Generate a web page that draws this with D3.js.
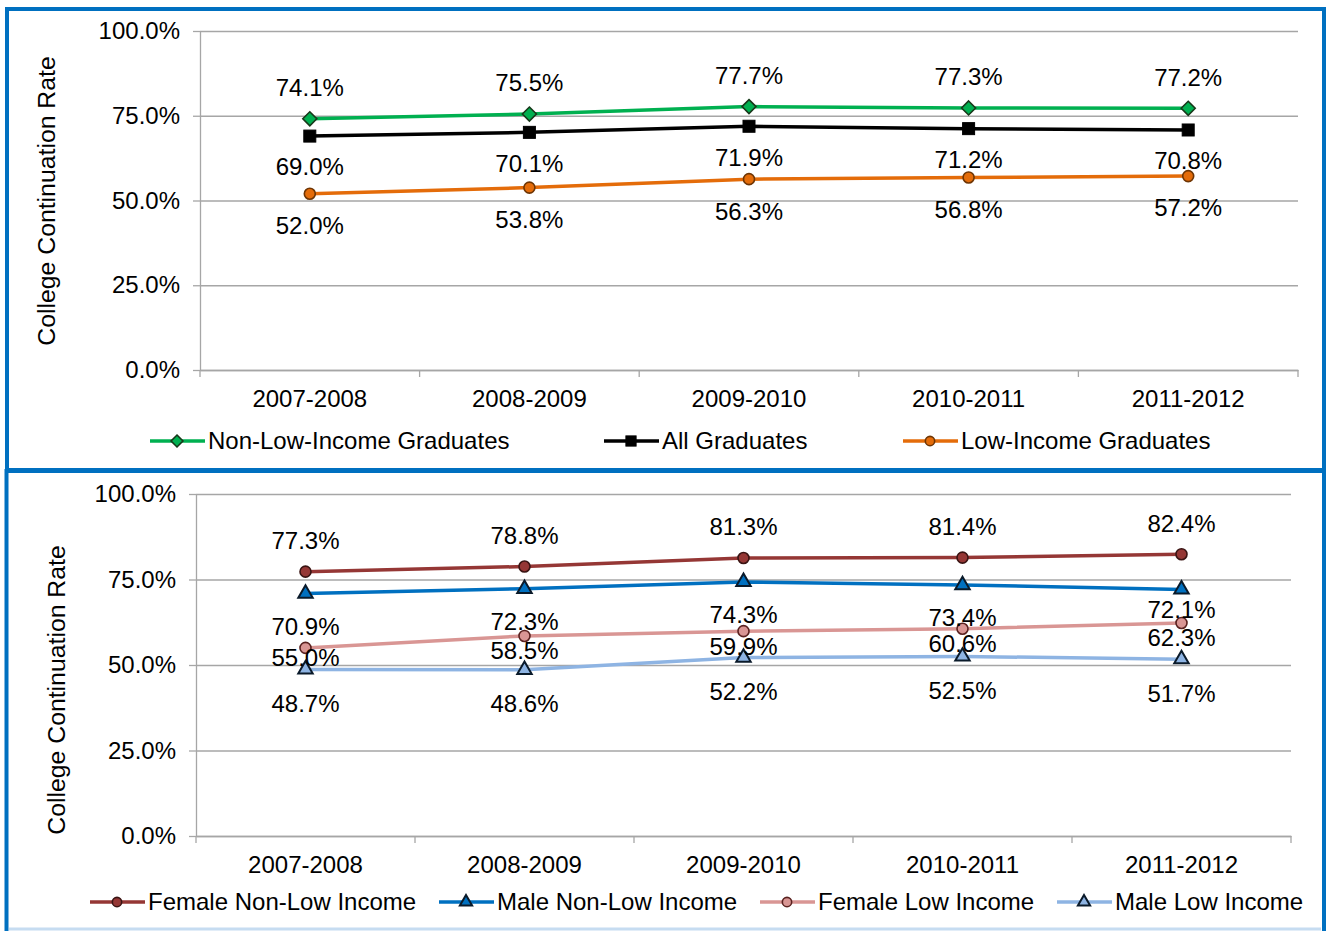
<!DOCTYPE html>
<html>
<head>
<meta charset="utf-8">
<title>College Continuation Rate</title>
<script src="https://cdn.jsdelivr.net/npm/d3@7"></script>
<style>
  body { margin: 0; background: #fff; }
  text { font-family: "Liberation Sans", Arial, sans-serif; fill: #000; }
</style>
</head>
<body>
<script>
// categories and axis ticks
var years = ["2007-2008", "2008-2009", "2009-2010", "2010-2011", "2011-2012"];
var yTicks = [0, 25, 50, 75, 100];

// top chart (percent)
var nonLowIncome = [74.1, 75.5, 77.7, 77.3, 77.2];
var allGraduates = [69.0, 70.1, 71.9, 71.2, 70.8];
var lowIncome    = [52.0, 53.8, 56.3, 56.8, 57.2];

// bottom chart (percent)
var femaleNonLow = [77.3, 78.8, 81.3, 81.4, 82.4];
var maleNonLow   = [70.9, 72.3, 74.3, 73.4, 72.1];
var femaleLow    = [55.0, 58.5, 59.9, 60.6, 62.3];
var maleLow      = [48.7, 48.6, 52.2, 52.5, 51.7];

var W = 1326, H = 931, FS = 24;

var svg = d3.select("body").append("svg")
    .attr("width", W)
    .attr("height", H);

// panel frames
svg.append("line")
    .attr("x1", 9).attr("x2", 1321).attr("y1", 929).attr("y2", 929)
    .attr("stroke", "#c6dcf1").attr("stroke-width", 3);
svg.append("rect")
    .attr("x", 6.5).attr("y", 471).attr("width", 1317.5).attr("height", 480)
    .attr("fill", "none").attr("stroke", "#0070c0").attr("stroke-width", 4);
svg.append("rect")
    .attr("x", 7).attr("y", 9).attr("width", 1317).attr("height", 461)
    .attr("fill", "none").attr("stroke", "#0070c0").attr("stroke-width", 4);

// marker shapes
function drawMarker(g, shape, fill, stroke, k) {
  k = k || 1;
  if (shape == "diamond") {
    g.append("path").attr("d", "M0," + (-7*k) + "L" + (7*k) + ",0L0," + (7*k) + "L" + (-7*k) + ",0Z")
      .attr("fill", fill).attr("stroke", stroke).attr("stroke-width", 1.6);
  } else if (shape == "square") {
    g.append("rect").attr("x", -6*k).attr("y", -6*k).attr("width", 12*k).attr("height", 12*k)
      .attr("fill", fill).attr("stroke", stroke).attr("stroke-width", 1);
  } else if (shape == "circle") {
    g.append("circle").attr("r", 5.5*k)
      .attr("fill", fill).attr("stroke", stroke).attr("stroke-width", 1.6);
  } else if (shape == "triangle") {
    g.append("path").attr("d", d3.symbol(d3.symbolTriangle, 90*k*k))
      .attr("fill", fill).attr("stroke", stroke).attr("stroke-width", 2)
      .attr("stroke-linejoin", "miter");
  }
}

function drawPanel(p) {
  var x = d3.scaleBand().domain(years).range([p.left, p.right]);
  var y = d3.scaleLinear().domain([0, 100]).range([p.bottom, p.top]);
  var cx = function(i) { return x(years[i]) + x.bandwidth() / 2; };
  var g = svg.append("g");

  // gridlines
  g.append("g")
      .attr("transform", "translate(" + p.left + ",0)")
      .call(d3.axisLeft(y).tickValues(yTicks).tickSize(-(p.right - p.left)).tickSizeOuter(0).tickFormat(""))
      .call(function(s) { s.select(".domain").remove(); })
      .selectAll("line").attr("stroke", "#a6a6a6").attr("stroke-width", 1.3);

  // y axis
  var ya = g.append("g")
      .attr("transform", "translate(" + p.left + ",0)")
      .call(d3.axisLeft(y).tickValues(yTicks).tickSize(7).tickSizeOuter(0).tickPadding(13)
        .tickFormat(function(d) { return d.toFixed(1) + "%"; }));
  ya.select(".domain").attr("stroke", "#a6a6a6").attr("stroke-width", 1.3);
  ya.selectAll("line").attr("stroke", "#a6a6a6").attr("stroke-width", 1.3);
  ya.selectAll("text").attr("font-size", FS).attr("font-family", null);

  // x axis, ticks between categories
  var xa = g.append("g")
      .attr("transform", "translate(0," + p.bottom + ")")
      .call(d3.axisBottom(x).tickSize(0).tickSizeOuter(0).tickPadding(20));
  xa.select(".domain").attr("stroke", "#a6a6a6").attr("stroke-width", 1.3);
  xa.selectAll("text").attr("font-size", FS).attr("font-family", null);
  xa.selectAll(".bound")
      .data(years.map(function(d) { return x(d); }).concat([p.right]))
    .enter().append("line")
      .attr("x1", function(d) { return d; }).attr("x2", function(d) { return d; })
      .attr("y1", 0).attr("y2", 7)
      .attr("stroke", "#a6a6a6").attr("stroke-width", 1.3);

  // y title
  g.append("text")
      .attr("transform", "translate(" + p.titleX + "," + p.titleY + ") rotate(-90)")
      .attr("text-anchor", "middle")
      .attr("dy", "0.35em")
      .attr("font-size", 24.8)
      .text("College Continuation Rate");

  // series
  var line = d3.line()
      .x(function(d, i) { return cx(i); })
      .y(function(d) { return y(d); });

  p.series.forEach(function(s) {
    g.append("path")
        .attr("d", line(s.values))
        .attr("fill", "none")
        .attr("stroke", s.color)
        .attr("stroke-width", 3.5)
        .attr("stroke-linejoin", "round");
  });
  p.series.forEach(function(s) {
    s.values.forEach(function(v, i) {
      var m = g.append("g").attr("transform", "translate(" + cx(i) + "," + y(v) + ")");
      drawMarker(m, s.shape, s.fill, s.stroke);
    });
  });
  p.series.forEach(function(s) {
    g.selectAll(null)
        .data(s.values)
      .enter().append("text")
        .attr("x", function(d, i) { return cx(i); })
        .attr("y", function(d, i) { return y(d) + s.labelDy + ((s.nudge && s.nudge[i]) || 0); })
        .attr("dy", "0.35em")
        .attr("text-anchor", "middle")
        .attr("font-size", FS)
        .text(function(d) { return d.toFixed(1) + "%"; });
  });

  // legend
  p.series.forEach(function(s, i) {
    var lx = p.legendX[i], ly = p.legendY;
    g.append("line")
        .attr("x1", lx).attr("x2", lx + 55).attr("y1", ly).attr("y2", ly)
        .attr("stroke", s.color).attr("stroke-width", 3.5);
    var m = g.append("g").attr("transform", "translate(" + (lx + 27) + "," + ly + ")");
    drawMarker(m, s.shape, s.fill, s.stroke, 0.85);
    g.append("text")
        .attr("x", lx + 58).attr("y", ly).attr("dy", "0.35em")
        .attr("font-size", FS)
        .text(s.name);
  });
}

drawPanel({
  left: 200, right: 1298, top: 31, bottom: 370,
  titleX: 46, titleY: 201,
  legendY: 441, legendX: [150, 604, 903],
  series: [
    {name: "Non-Low-Income Graduates", values: nonLowIncome, color: "#00b050", shape: "diamond", fill: "#00b050", stroke: "#17381a", labelDy: -31},
    {name: "All Graduates", values: allGraduates, color: "#000000", shape: "square", fill: "#000000", stroke: "#000000", labelDy: 31},
    {name: "Low-Income Graduates", values: lowIncome, color: "#e46c0a", shape: "circle", fill: "#e46c0a", stroke: "#6e3504", labelDy: 32}
  ]
});

drawPanel({
  left: 196, right: 1291, top: 494, bottom: 836,
  titleX: 56, titleY: 690,
  legendY: 902, legendX: [90, 439, 760, 1057],
  series: [
    {name: "Female Non-Low Income", values: femaleNonLow, color: "#953735", shape: "circle", fill: "#953735", stroke: "#3a1413", labelDy: -31},
    {name: "Male Non-Low Income", values: maleNonLow, color: "#0070c0", shape: "triangle", fill: "#0070c0", stroke: "#0a1a2a", labelDy: 33, nudge: {4: -13}},
    {name: "Female Low Income", values: femaleLow, color: "#d99694", shape: "circle", fill: "#d99694", stroke: "#5a2220", labelDy: 15, nudge: {0: -5}},
    {name: "Male Low Income", values: maleLow, color: "#8eb4e3", shape: "triangle", fill: "#8eb4e3", stroke: "#0a1a2a", labelDy: 34}
  ]
});
</script>
</body>
</html>
